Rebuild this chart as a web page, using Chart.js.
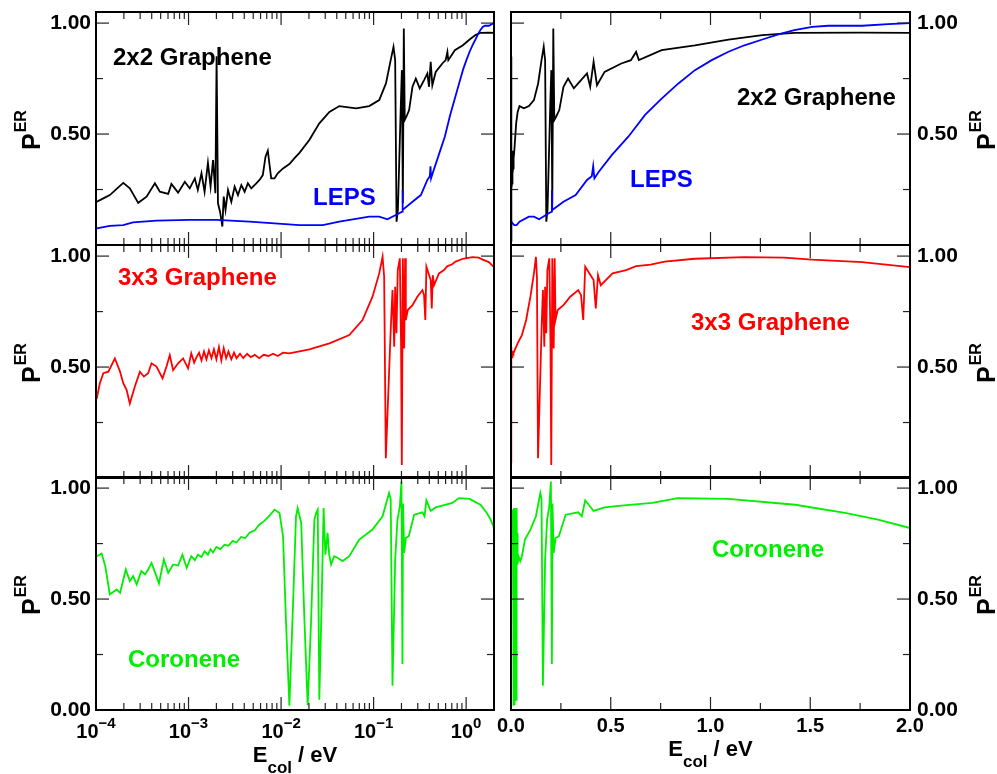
<!DOCTYPE html>
<html>
<head>
<meta charset="utf-8">
<title>P ER vs collision energy</title>
<script src="https://cdn.jsdelivr.net/npm/chart.js@4.4.0/dist/chart.umd.min.js"></script>
<style>
  body { margin: 0; background: #fff; }
  #wrap { position: relative; width: 997px; height: 774px; overflow: hidden;
          font-family: "Liberation Sans", Arial, Helvetica, sans-serif; font-weight: bold; }
  #wrap canvas { position: absolute; left: 0; top: 0; }
  .lbl { position: absolute; font-size: 24px; line-height: 24px; white-space: nowrap; }
  .ytitle { position: absolute; font-size: 25px; line-height: 25px; white-space: nowrap;
            transform-origin: 0 0; transform: rotate(-90deg); }
  .ytitle sup { font-size: 16px; line-height: 0; vertical-align: 14px; margin-left: 1px; }
  .xtitle { position: absolute; font-size: 22px; line-height: 22px; white-space: nowrap;
            transform: translateX(-50%); }
  .xtitle sub { font-size: 17px; line-height: 0; vertical-align: -11px; }
</style>
</head>
<body>
<div id="wrap"></div>
<script>
// collision energy (eV), P^ER
const graphene2x2 = [
  [2e-5,0.02],[1.02e-4,0.195],[1.2e-4,0.21],[1.41e-4,0.225],[1.97e-4,0.28],[2.32e-4,0.255],
  [2.86e-4,0.19],[3.52e-4,0.218],[4.33e-4,0.278],[4.9e-4,0.24],[6.03e-4,0.23],[6.53e-4,0.275],
  [7.71e-4,0.236],[9.12e-4,0.285],[1.03e-3,0.255],[1.17e-3,0.3],[1.26e-3,0.248],[1.38e-3,0.323],
  [1.49e-3,0.24],[1.62e-3,0.371],[1.73e-3,0.263],[1.84e-3,0.383],[1.95e-3,0.233],[2.01e-3,0.85],
  [2.08e-3,0.188],[2.19e-3,0.15],[2.32e-3,0.083],[2.4e-3,0.218],[2.51e-3,0.158],[2.67e-3,0.248],
  [2.9e-3,0.195],[3.15e-3,0.263],[3.42e-3,0.225],[3.72e-3,0.27],[4.04e-3,0.24],[4.38e-3,0.278],
  [4.76e-3,0.255],[5.4e-3,0.278],[5.85e-3,0.293],[6.35e-3,0.315],[6.79e-3,0.398],[7.19e-3,0.425],
  [7.82e-3,0.3],[8.49e-3,0.3],[9.2e-3,0.323],[1.05e-2,0.345],[1.23e-2,0.365],[1.39e-2,0.39],
  [1.58e-2,0.415],[2.02e-2,0.473],[2.59e-2,0.548],[3.33e-2,0.6],[4.26e-2,0.626],[6.46e-2,0.616],
  [8.97e-2,0.626],[0.115,0.653],[0.136,0.728],[0.153,0.833],[0.164,0.893],[0.171,0.833],
  [0.177,0.105],[0.183,0.158],[0.197,0.638],[0.202,0.788],[0.207,0.188],[0.212,0.976],
  [0.217,0.563],[0.226,0.578],[0.242,0.608],[0.263,0.713],[0.286,0.75],[0.315,0.706],
  [0.351,0.743],[0.381,0.773],[0.397,0.713],[0.414,0.826],[0.431,0.72],[0.469,0.78],
  [0.553,0.818],[0.601,0.833],[0.627,0.87],[0.641,0.833],[0.755,0.878],[0.922,0.9],
  [1.09,0.926],[1.26,0.946],[1.42,0.956],[1.75,0.957],[2.0,0.956]
];
const leps = [
  [2e-5,0.02],[1.02e-4,0.075],[1.41e-4,0.086],[1.97e-4,0.09],[2.51e-4,0.102],[4.51e-4,0.11],
  [1.03e-3,0.113],[2e-3,0.113],[4.57e-3,0.105],[1.58e-2,0.09],[2.82e-2,0.09],[4.26e-2,0.105],
  [8.97e-2,0.128],[0.115,0.128],[0.141,0.116],[0.189,0.143],[0.204,0.15],[0.205,0.248],
  [0.207,0.158],[0.263,0.195],[0.324,0.225],[0.381,0.293],[0.405,0.31],[0.412,0.355],
  [0.418,0.3],[0.44,0.33],[0.505,0.405],[0.588,0.488],[0.672,0.586],[0.755,0.66],
  [0.839,0.728],[0.922,0.788],[1.006,0.833],[1.09,0.871],[1.17,0.9],[1.26,0.926],
  [1.34,0.949],[1.42,0.968],[1.51,0.983],[1.59,0.988],[1.76,0.988],[1.89,0.995],[2.0,1.0]
];
const graphene3x3 = [
  [2e-5,0.07],[1.02e-4,0.359],[1.1e-4,0.427],[1.2e-4,0.472],[1.36e-4,0.479],[1.6e-4,0.539],
  [1.82e-4,0.479],[1.97e-4,0.427],[2.14e-4,0.397],[2.32e-4,0.336],[2.63e-4,0.412],[2.98e-4,0.479],
  [3.29e-4,0.457],[3.66e-4,0.472],[3.98e-4,0.517],[4.51e-4,0.502],[5.24e-4,0.449],[5.78e-4,0.502],
  [6.27e-4,0.554],[6.81e-4,0.486],[7.71e-4,0.517],[8.73e-4,0.539],[9.89e-4,0.494],[1.07e-3,0.562],
  [1.15e-3,0.52],[1.22e-3,0.545],[1.3e-3,0.565],[1.38e-3,0.53],[1.47e-3,0.57],[1.56e-3,0.535],
  [1.66e-3,0.575],[1.77e-3,0.54],[1.88e-3,0.58],[2e-3,0.535],[2.13e-3,0.59],[2.26e-3,0.53],
  [2.4e-3,0.585],[2.55e-3,0.54],[2.7e-3,0.57],[2.9e-3,0.535],[3.1e-3,0.565],[3.3e-3,0.54],
  [3.6e-3,0.56],[3.9e-3,0.54],[4.3e-3,0.56],[4.7e-3,0.545],[5.2e-3,0.555],[5.8e-3,0.54],
  [6.5e-3,0.555],[7.3e-3,0.55],[8.2e-3,0.56],[9.2e-3,0.55],[1.05e-2,0.565],[1.23e-2,0.562],
  [2.02e-2,0.58],[3.33e-2,0.607],[5.46e-2,0.644],
  [7.59e-2,0.712],[9.73e-2,0.817],[0.115,0.922],[0.125,0.997],[0.13,0.907],[0.1355,0.089],
  [0.1535,0.682],[0.16,0.847],[0.167,0.592],[0.171,0.862],[0.1766,0.652],[0.1824,0.937],
  [0.192,0.99],[0.198,0.6],[0.2018,0.059],[0.207,0.99],[0.214,0.584],[0.219,0.99],
  [0.223,0.712],[0.234,0.757],[0.263,0.779],[0.297,0.817],[0.337,0.847],[0.351,0.824],
  [0.362,0.712],[0.372,0.952],[0.414,0.892],[0.425,0.764],[0.436,0.914],[0.45,0.869],
  [0.509,0.922],[0.577,0.937],[0.627,0.955],[0.7,0.962],[0.77,0.975],[0.92,0.988],
  [1.17,0.995],[1.37,0.993],[1.51,0.984],[1.76,0.973],[2.0,0.95]
];
const coronene = [
  [2e-5,0.52],[1.02e-4,0.693],[1.15e-4,0.705],[1.26e-4,0.648],[1.41e-4,0.521],[1.67e-4,0.543],
  [1.82e-4,0.528],[2.1e-4,0.633],[2.32e-4,0.581],[2.52e-4,0.603],[2.75e-4,0.566],[3.09e-4,0.626],
  [3.39e-4,0.611],[3.66e-4,0.633],[3.98e-4,0.663],[4.37e-4,0.618],[4.79e-4,0.57],[5.41e-4,0.678],
  [6.03e-4,0.618],[6.81e-4,0.656],[7.71e-4,0.651],[8.59e-4,0.7],[9.55e-4,0.641],[1.07e-3,0.693],
  [1.17e-3,0.675],[1.26e-3,0.7],[1.38e-3,0.69],[1.49e-3,0.715],[1.62e-3,0.7],[1.73e-3,0.725],
  [1.84e-3,0.71],[2e-3,0.735],[2.2e-3,0.725],[2.45e-3,0.745],[2.7e-3,0.74],[3e-3,0.762],
  [3.3e-3,0.755],[3.7e-3,0.78],[4.1e-3,0.775],[4.6e-3,0.8],[5.2e-3,0.81],[5.8e-3,0.835],
  [6.5e-3,0.85],[7.3e-3,0.87],[8.51e-3,0.903],[9.62e-3,0.888],[1.05e-2,0.783],
  [1.13e-2,0.4],[1.23e-2,0.019],[1.34e-2,0.45],[1.45e-2,0.873],[1.51e-2,0.91],[1.65e-2,0.843],
  [1.79e-2,0.4],[1.94e-2,0.022],[2.11e-2,0.4],[2.29e-2,0.858],[2.39e-2,0.888],[2.49e-2,0.903],
  [2.59e-2,0.046],[2.75e-2,0.5],[2.88e-2,0.91],[3.01e-2,0.7],[3.18e-2,0.798],[3.31e-2,0.7],
  [3.47e-2,0.656],[3.76e-2,0.693],[4.07e-2,0.686],[4.62e-2,0.671],[5.46e-2,0.693],[7e-2,0.768],
  [9.73e-2,0.813],[0.125,0.873],[0.147,0.978],[0.153,0.95],[0.16,0.109],[0.171,0.678],
  [0.181,0.858],[0.192,0.918],[0.2,1.03],[0.205,0.207],[0.208,0.93],[0.214,0.708],
  [0.223,0.775],[0.24,0.783],[0.274,0.88],[0.337,0.891],[0.355,0.873],[0.372,0.945],
  [0.414,0.897],[0.469,0.913],[0.553,0.921],[0.708,0.933],[0.836,0.955],[1.09,0.951],
  [1.425,0.925],[1.674,0.888],[1.84,0.858],[2.0,0.82]
];

const yTicks = [0, 0.25, 0.5, 0.75, 1.0];
const logDecades = [1e-4, 1e-3, 1e-2, 1e-1, 1];
const logExponents = ['\u22124', '\u22123', '\u22122', '\u22121', '0'];
const linTicks = [0, 0.25, 0.5, 0.75, 1.0, 1.25, 1.5, 1.75, 2.0];

// page layout
const W = 997, H = 774;
const cols = [{left: 96, right: 494}, {left: 511, right: 910}];
const rows = [{top: 12, bottom: 245}, {top: 245, bottom: 478}, {top: 477, bottom: 710}];
const AXW = 60, AXH = 40;   // room kept for tick labels
const FONT = '"Liberation Sans", Arial, Helvetica, sans-serif';

const series = {
    g2:   {data: graphene2x2, color: '#000000'},
    leps: {data: leps, color: '#0000ff'},
    g3:   {data: graphene3x3, color: '#ff0000'},
    cor:  {data: coronene, color: '#00ee00'}
};

// minor ticks for the log axis: 2..9 times each decade
const logMinor = [];
logDecades.forEach(d => {
    for (let m = 2; m <= 9; m++) {
        if (d * m <= 2) logMinor.push(d * m);
    }
});

// inward ticks, box and the 10^n labels
const frame = {
    id: 'frame',
    afterDraw(chart, args, opts) {
        const ctx = chart.ctx;
        const a = chart.chartArea;
        const xs = chart.scales.x, ys = chart.scales.y;
        ctx.save();
        ctx.strokeStyle = '#222';
        ctx.lineWidth = 1.2;
        function seg(x1, y1, x2, y2) {
            ctx.beginPath(); ctx.moveTo(x1, y1); ctx.lineTo(x2, y2); ctx.stroke();
        }
        yTicks.forEach(v => {
            const y = ys.getPixelForValue(v);
            const len = (v * 100) % 50 === 0 ? 13 : 7;
            seg(a.left, y, a.left + len, y);
            seg(a.right, y, a.right - len, y);
        });
        let xt = [];
        if (opts.log) {
            logDecades.forEach(v => xt.push([v, 13]));
            logMinor.forEach(v => xt.push([v, 7]));
        } else {
            linTicks.forEach(v => xt.push([v, (v * 100) % 50 === 0 ? 13 : 7]));
        }
        xt.forEach(([v, len]) => {
            const x = xs.getPixelForValue(v);
            if (x < a.left + 1 || x > a.right - 1) return;
            seg(x, a.bottom, x, a.bottom - len);
            seg(x, a.top, x, a.top + len);
        });
        ctx.strokeStyle = '#000';
        ctx.lineWidth = 2;
        ctx.strokeRect(a.left, a.top, a.right - a.left, a.bottom - a.top);

        if (opts.logLabels) {
            ctx.fillStyle = '#000';
            ctx.textBaseline = 'alphabetic';
            ctx.textAlign = 'left';
            logDecades.forEach((v, i) => {
                const x = xs.getPixelForValue(v);
                ctx.font = 'bold 20px ' + FONT;
                const w1 = ctx.measureText('10').width;
                ctx.font = 'bold 15px ' + FONT;
                const w2 = ctx.measureText(logExponents[i]).width;
                const x0 = x - (w1 + w2) / 2;
                ctx.font = 'bold 20px ' + FONT;
                ctx.fillText('10', x0, a.bottom + 28);
                ctx.font = 'bold 15px ' + FONT;
                ctx.fillText(logExponents[i], x0 + w1, a.bottom + 18);
            });
        }
        ctx.restore();
    }
};

function toXY(arr) {
    return arr.map(p => ({x: p[0], y: p[1]}));
}

function makePanel(col, row, keys) {
    const canvas = document.createElement('canvas');
    canvas.width = W;
    canvas.height = H;
    document.getElementById('wrap').appendChild(canvas);
    const c = cols[col], r = rows[row];
    const isLog = col === 0;
    const bottomRow = row === 2;

    const xScale = {
        type: isLog ? 'logarithmic' : 'linear',
        min: isLog ? 1e-4 : 0,
        max: 2,
        afterBuildTicks: s => {
            s.ticks = (isLog ? logDecades : linTicks).map(v => ({value: v}));
        },
        afterFit: s => { s.height = AXH; s.paddingLeft = 0; s.paddingRight = 0; },
        grid: {display: false, drawTicks: false},
        border: {display: false},
        ticks: {
            display: !isLog && bottomRow,
            autoSkip: false, maxRotation: 0, minRotation: 0,
            padding: 4,
            color: '#000',
            font: {family: FONT, size: 20, weight: 'bold'},
            callback: v => ((v * 100) % 50 === 0 ? v.toFixed(1) : '')
        }
    };

    const yScale = {
        type: 'linear',
        position: col === 0 ? 'left' : 'right',
        min: 0,
        max: 1.05,
        afterBuildTicks: s => { s.ticks = yTicks.map(v => ({value: v})); },
        afterFit: s => { s.width = AXW; s.paddingTop = 0; s.paddingBottom = 0; },
        grid: {display: false, drawTicks: false},
        border: {display: false},
        ticks: {
            autoSkip: false,
            padding: col === 0 ? 5 : 7,
            color: '#000',
            font: {family: FONT, size: 21, weight: 'bold'},
            callback: v => (v === 0.5 || v === 1 || (v === 0 && bottomRow)) ? v.toFixed(2) : ''
        }
    };

    const pad = {
        left: col === 0 ? c.left - AXW : c.left,
        right: col === 0 ? W - c.right : W - c.right - AXW,
        top: r.top,
        bottom: H - r.bottom - AXH
    };

    return new Chart(canvas, {
        type: 'line',
        data: {
            datasets: keys.map(k => ({
                data: toXY(series[k].data),
                borderColor: series[k].color,
                borderWidth: 1.8,
                pointRadius: 0,
                tension: 0,
                fill: false
            }))
        },
        options: {
            responsive: false,
            animation: false,
            devicePixelRatio: 1,
            events: [],
            layout: {padding: pad},
            plugins: {
                legend: {display: false},
                tooltip: {enabled: false},
                frame: {log: isLog, logLabels: isLog && bottomRow}
            },
            scales: {x: xScale, y: yScale}
        },
        plugins: [frame]
    });
}

makePanel(0, 0, ['leps', 'g2']);
makePanel(1, 0, ['leps', 'g2']);
makePanel(0, 1, ['g3']);
makePanel(1, 1, ['g3']);
makePanel(0, 2, ['cor']);
makePanel(1, 2, ['cor']);

// text: panel names, axis titles
const wrap = document.getElementById('wrap');
function addDiv(cls, html, style) {
    const d = document.createElement('div');
    d.className = cls;
    d.innerHTML = html;
    Object.assign(d.style, style);
    wrap.appendChild(d);
    return d;
}

const panelLabels = [
    {text: '2x2 Graphene', color: '#000000', x: 113, y: 45},
    {text: 'LEPS', color: '#0000ff', x: 313, y: 185},
    {text: '2x2 Graphene', color: '#000000', x: 737, y: 85},
    {text: 'LEPS', color: '#0000ff', x: 630, y: 167},
    {text: '3x3 Graphene', color: '#ff0000', x: 118, y: 265},
    {text: '3x3 Graphene', color: '#ff0000', x: 691, y: 310},
    {text: 'Coronene', color: '#00ee00', x: 128, y: 647},
    {text: 'Coronene', color: '#00ee00', x: 712, y: 537}
];
panelLabels.forEach(l => addDiv('lbl', l.text, {left: l.x + 'px', top: l.y + 'px', color: l.color}));

rows.forEach(r => {
    const mid = (r.top + r.bottom) / 2;
    addDiv('ytitle', 'P<sup>ER</sup>', {left: '19px', top: (mid + 21.5) + 'px'});
    addDiv('ytitle', 'P<sup>ER</sup>', {left: '974px', top: (mid + 21.5) + 'px'});
});

addDiv('xtitle', 'E<sub>col</sub> / eV', {left: (cols[0].left + cols[0].right) / 2 + 'px', top: '744px'});
addDiv('xtitle', 'E<sub>col</sub> / eV', {left: (cols[1].left + cols[1].right) / 2 + 'px', top: '738px'});
</script>
</body>
</html>
